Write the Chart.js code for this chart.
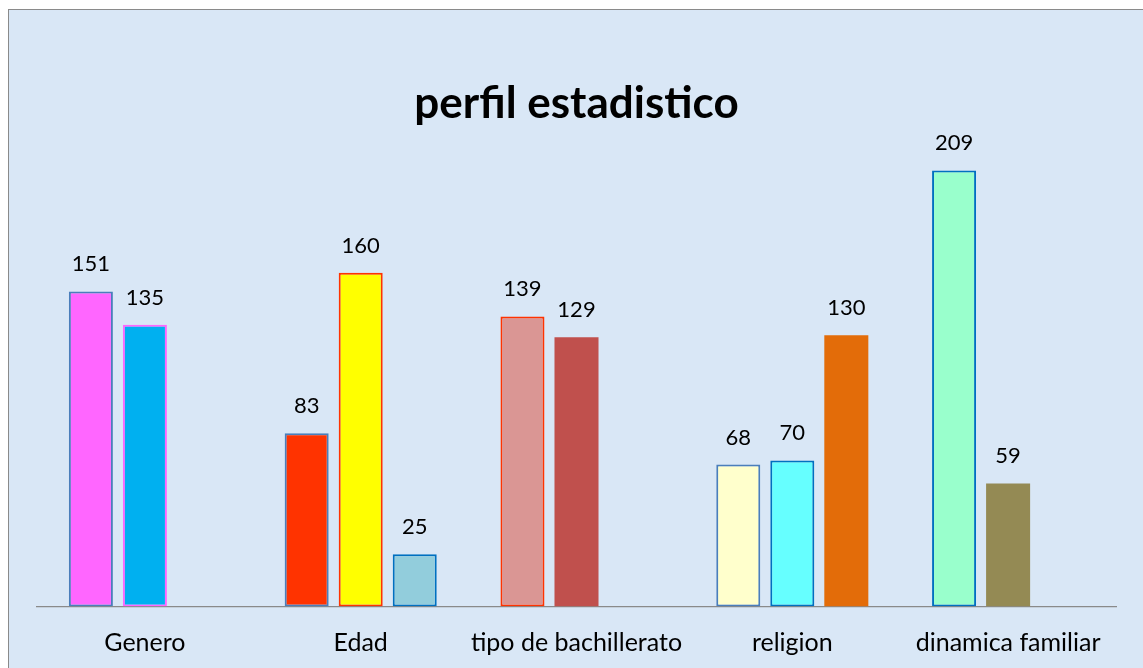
<!DOCTYPE html>
<html>
<head>
<meta charset="utf-8">
<script src="https://cdn.jsdelivr.net/npm/chart.js@4/dist/chart.umd.min.js"></script>
<style>
  html, body { margin: 0; padding: 0; background: #ffffff; width: 1143px; height: 668px; overflow: hidden; }
  #frame { position: absolute; left: 8px; top: 9px; width: 1200px; height: 700px; border: 1px solid #8a8a8a; background: #d9e7f6; }
  #c { position: absolute; left: 0; top: 0; }
</style>
</head>
<body>
<div id="frame"></div>
<canvas id="c" width="1143" height="700"></canvas>
<script>
// ---- data ----
const categories = ["Genero", "Edad", "tipo de bachillerato", "religion", "dinamica familiar"];
const serie1 = [151, 83, 139, 68, 209];
const serie2 = [135, 160, 129, 70, 59];
const serie3 = [null, 25, null, 130, null];
const chartTitle = "perfil estadistico";

// ---- styles ----
const fill1 = ["#FF66FF", "#FF3300", "#DA9694", "#FFFFCC", "#99FFCC"];
const line1 = ["#4A7EBB", "#4A7EBB", "#FF3300", "#4A7EBB", "#0070C0"];
const bw1   = [2, 2, 2, 2, 2];
const fill2 = ["#00B0F0", "#FFFF00", "#C0504D", "#66FFFF", "#948A54"];
const line2 = ["#FF66FF", "#FF3300", "#C0504D", "#0070C0", "#948A54"];
const bw2   = [2, 2, 0, 2, 0];
const fill3 = ["#92CDDC", "#92CDDC", "#92CDDC", "#E36C09", "#92CDDC"];
const line3 = ["#0070C0", "#0070C0", "#0070C0", "#E36C09", "#0070C0"];
const bw3   = [2, 2, 2, 0, 2];

const FONT = "Lato, 'Open Sans', 'Noto Sans', sans-serif";

const valueLabels = {
  id: 'valueLabels',
  afterDatasetsDraw(chart) {
    const ctx = chart.ctx;
    ctx.save();
    ctx.font = "22px " + FONT;
    ctx.fillStyle = "#000000";
    ctx.textAlign = "center";
    ctx.textBaseline = "alphabetic";
    chart.data.datasets.forEach((ds, di) => {
      const meta = chart.getDatasetMeta(di);
      meta.data.forEach((el, i) => {
        const v = ds.data[i];
        if (v === null || v === undefined) return;
        ctx.fillText(String(v), el.x, el.y - 20);
      });
    });
    ctx.restore();
  }
};

const common = { categoryPercentage: 0.751, barPercentage: 0.815, borderSkipped: false };

new Chart(document.getElementById('c'), {
  type: 'bar',
  data: {
    labels: categories,
    datasets: [
      Object.assign({ label: 's1', data: serie1, backgroundColor: fill1, borderColor: line1, borderWidth: bw1 }, common),
      Object.assign({ label: 's2', data: serie2, backgroundColor: fill2, borderColor: line2, borderWidth: bw2 }, common),
      Object.assign({ label: 's3', data: serie3, backgroundColor: fill3, borderColor: line3, borderWidth: bw3 }, common)
    ]
  },
  options: {
    responsive: false,
    animation: false,
    layout: { padding: { left: 37, right: 27, top: 0, bottom: 20.5 } },
    plugins: {
      legend: { display: false },
      tooltip: { enabled: false },
      title: {
        display: true,
        text: chartTitle,
        color: "#000000",
        font: { family: FONT, size: 44, weight: 'bold' },
        padding: { top: 77.4, bottom: 6.8 }
      }
    },
    scales: {
      x: {
        grid: { display: false, drawTicks: false },
        border: { display: true, color: "#8a8a8a", width: 1.2 },
        ticks: { color: "#000000", font: { family: FONT, size: 25 }, padding: 21.5, maxRotation: 0, autoSkip: false }
      },
      y: {
        display: false,
        min: 0,
        max: 225
      }
    }
  },
  plugins: [valueLabels]
});
</script>
</body>
</html>
